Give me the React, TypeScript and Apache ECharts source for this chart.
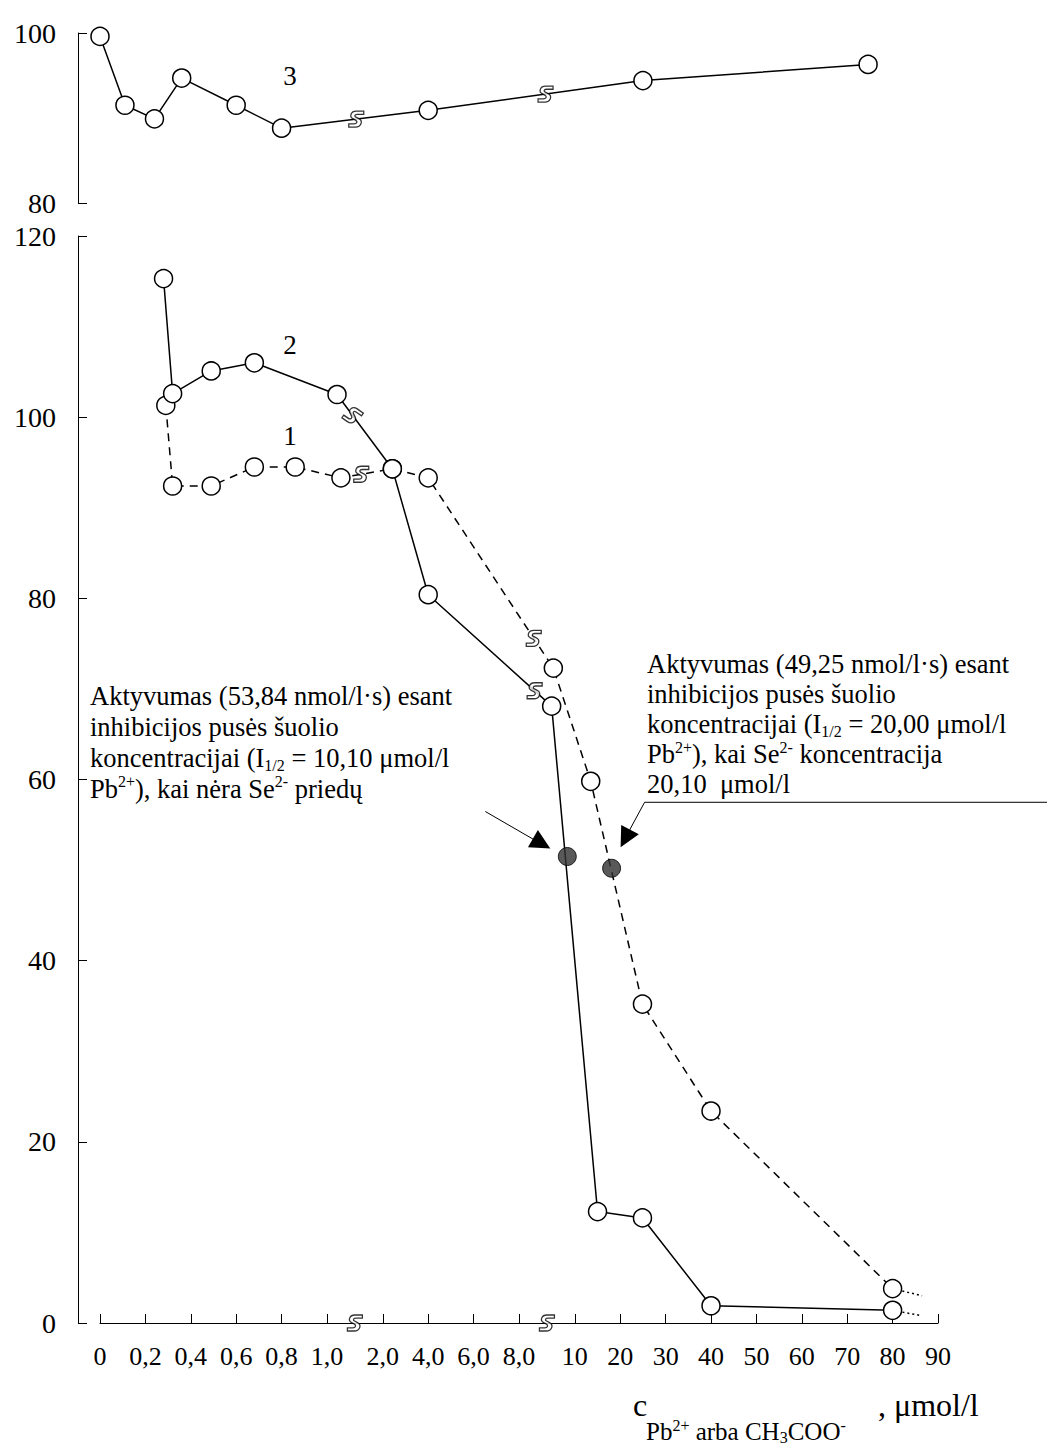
import { useEffect, useRef } from "react";
import * as echarts from "echarts";

// ---- axis (broken, piecewise scale) ----
const tickLabels = ["0", "0,2", "0,4", "0,6", "0,8", "1,0", "2,0", "4,0", "6,0", "8,0", "10", "20", "30", "40", "50", "60", "70", "80", "90"];
const tickValues = [0, 0.2, 0.4, 0.6, 0.8, 1.0, 2, 4, 6, 8, 10, 20, 30, 40, 50, 60, 70, 80, 90];
const breakAfterIndex = [5, 9];
const BREAK_GAP = 0.23;

const yTopMin = 80, yTopMax = 100, yTopStep = 20;
const yBotMin = 0, yBotMax = 120, yBotStep = 20;

// ---- series (concentration, activity) ----
const curve3X = [0, 0.11, 0.24, 0.36, 0.6, 0.8, 4.0, 25, 74.6];
const curve3Y = [99.6, 91.5, 89.9, 94.7, 91.5, 88.8, 90.9, 94.4, 96.3];

const curve2X = [0.28, 0.32, 0.49, 0.68, 1.18, 2.42, 4.0, 9.17, 15.0, 24.9, 40, 80];
const curve2Y = [115.3, 102.6, 105.1, 106.0, 102.5, 94.3, 80.4, 68.1, 12.3, 11.6, 1.9, 1.4];

const curve1X = [0.29, 0.32, 0.49, 0.68, 0.86, 1.25, 2.42, 4.0, 9.23, 13.5, 24.9, 40, 80];
const curve1Y = [101.3, 92.4, 92.4, 94.5, 94.5, 93.3, 94.3, 93.3, 72.3, 59.8, 35.2, 23.4, 3.8];

const halfX = [9.73, 18.1]; // curve 2, curve 1
const halfY = [51.5, 50.2];

const tailX = [80, 86.5];
const tail1Y = [3.8, 3.0];
const tail2Y = [1.4, 0.8];

// break-mark shifts (in tick units) relative to the axis break centre, per curve
const brk3Shift = [0.03, -0.03];
const brk2Shift = [-0.05, -0.27];
const brk1Shift = [0.14, -0.29];

const FONT = '"Liberation Serif", "Times New Roman", serif';
const BREAK_PATH =
  "path://M0,16 L7,16 C11,16 12,13 9.5,11.5 L5.5,9.5 C0.5,7 2.5,0 10,0 L20,0 L20,4 L11,4 C7.5,4 7.5,6.5 9.5,7.5 L13.5,9.5 C19.5,12.5 16.5,20 9,20 L0,20 Z";

const tickPos = tickValues.map((_, i) => i + BREAK_GAP * breakAfterIndex.filter((b) => i > b).length);
const X_MAX = tickPos[tickPos.length - 1];

function toPos(c: number): number {
  for (let i = 0; i < tickValues.length - 1; i++) {
    if (c <= tickValues[i + 1]) {
      const t = (c - tickValues[i]) / (tickValues[i + 1] - tickValues[i]);
      return tickPos[i] + t * (tickPos[i + 1] - tickPos[i]);
    }
  }
  const n = tickValues.length - 1;
  return tickPos[n] + ((c - tickValues[n]) / (tickValues[n] - tickValues[n - 1])) * (tickPos[n] - tickPos[n - 1]);
}

const pts = (xs: number[], ys: number[]) => xs.map((x, i) => [toPos(x), ys[i]]);

const breakCentres = breakAfterIndex.map((b) => (tickPos[b] + tickPos[b + 1]) / 2);

function yAt(data: number[][], p: number): number {
  for (let i = 0; i < data.length - 1; i++) {
    const [x0, y0] = data[i];
    const [x1, y1] = data[i + 1];
    if (p >= x0 && p <= x1) return y0 + ((p - x0) / (x1 - x0)) * (y1 - y0);
  }
  return data[data.length - 1][1];
}

function marksOn(data: number[][], shifts: number[], rot: number[] = [0, 0]) {
  return breakCentres.map((c, i) => {
    const p = c + shifts[i];
    return { value: [p, yAt(data, p)], symbolRotate: rot[i] };
  });
}

function arrowHead(tip: number[], from: number[], len = 20, half = 10) {
  const dx = tip[0] - from[0], dy = tip[1] - from[1];
  const d = Math.hypot(dx, dy);
  const ux = dx / d, uy = dy / d;
  const bx = tip[0] - ux * len, by = tip[1] - uy * len;
  return [
    [tip[0], tip[1]],
    [bx - uy * half, by + ux * half],
    [bx + uy * half, by - ux * half],
  ];
}

export default function App() {
  const ref = useRef<HTMLDivElement>(null);
  useEffect(() => {
    const chart = echarts.init(ref.current!, undefined, { renderer: "svg" });
    const d3 = pts(curve3X, curve3Y);
    const d2 = pts(curve2X, curve2Y);
    const d1 = pts(curve1X, curve1Y);

    const openCircle = {
      symbol: "circle",
      symbolSize: 18,
      itemStyle: { color: "#ffffff", borderColor: "#000000", borderWidth: 1.5 },
    };
    const axisBlack = { lineStyle: { color: "#000000", width: 1 } };
    const breakSeries = (xi: number, yi: number, data: any[]) => ({
      type: "scatter",
      xAxisIndex: xi,
      yAxisIndex: yi,
      symbol: BREAK_PATH,
      symbolSize: [15, 16],
      clip: false,
      z: 10,
      itemStyle: { color: "#ffffff", borderColor: "#000000", borderWidth: 1.3 },
      data,
      silent: true,
    });
    const yAxisBase = {
      type: "value",
      offset: 22,
      splitLine: { show: false },
      axisLine: { show: true, onZero: false, ...axisBlack },
      axisTick: { show: true, inside: true, length: 9, ...axisBlack },
      axisLabel: { margin: 22, color: "#000000", fontFamily: FONT, fontSize: 28 },
    };

    chart.setOption({
      animation: false,
      backgroundColor: "#ffffff",
      grid: [
        { left: 100, width: 838, top: 33, height: 170 },
        { left: 100, width: 838, top: 236, height: 1087 },
      ],
      xAxis: [
        { gridIndex: 0, type: "value", min: 0, max: X_MAX, show: false },
        {
          gridIndex: 1,
          type: "value",
          min: 0,
          max: X_MAX,
          splitLine: { show: false },
          axisLine: { show: true, onZero: false, ...axisBlack },
          axisTick: { show: true, inside: true, length: 9, customValues: tickPos, ...axisBlack },
          axisLabel: {
            customValues: tickPos,
            margin: 20,
            color: "#000000",
            fontFamily: FONT,
            fontSize: 26,
            formatter: (v: number) => {
              const i = tickPos.findIndex((p) => Math.abs(p - v) < 1e-6);
              return i >= 0 ? tickLabels[i] : "";
            },
          },
        },
      ],
      yAxis: [
        { ...yAxisBase, gridIndex: 0, min: yTopMin, max: yTopMax, interval: yTopStep },
        { ...yAxisBase, gridIndex: 1, min: yBotMin, max: yBotMax, interval: yBotStep },
      ],
      series: [
        {
          type: "line",
          xAxisIndex: 0,
          yAxisIndex: 0,
          data: d3,
          ...openCircle,
          lineStyle: { color: "#000000", width: 1.5 },
          z: 3,
        },
        {
          type: "line",
          xAxisIndex: 1,
          yAxisIndex: 1,
          data: pts(tailX, tail1Y),
          symbol: "none",
          lineStyle: { color: "#000000", width: 1.5, type: [2, 3] },
          z: 2,
        },
        {
          type: "line",
          xAxisIndex: 1,
          yAxisIndex: 1,
          data: pts(tailX, tail2Y),
          symbol: "none",
          lineStyle: { color: "#000000", width: 1.5, type: [2, 3] },
          z: 2,
        },
        {
          type: "line",
          xAxisIndex: 1,
          yAxisIndex: 1,
          data: d1,
          ...openCircle,
          lineStyle: { color: "#000000", width: 1.5, type: [8, 6] },
          z: 3,
        },
        {
          type: "line",
          xAxisIndex: 1,
          yAxisIndex: 1,
          data: d2,
          ...openCircle,
          lineStyle: { color: "#000000", width: 1.5 },
          z: 4,
        },
        {
          type: "scatter",
          xAxisIndex: 1,
          yAxisIndex: 1,
          symbol: "circle",
          symbolSize: 18,
          itemStyle: { color: "#303030", borderColor: "#000000", borderWidth: 1 },
          data: pts(halfX, halfY),
          z: 6,
        },
        breakSeries(0, 0, marksOn(d3, brk3Shift)),
        breakSeries(1, 1, [
          ...marksOn(d2, brk2Shift, [-35, 0]),
          ...marksOn(d1, brk1Shift),
          ...breakCentres.map((c) => ({ value: [c, 0] })),
        ]),
      ],
    });

    const p2 = chart.convertToPixel({ gridIndex: 1 }, pts(halfX, halfY)[0]) as number[];
    const p1 = chart.convertToPixel({ gridIndex: 1 }, pts(halfX, halfY)[1]) as number[];

    const leftTip = [p2[0] - 17, p2[1] - 8];
    const leftStart = [p2[0] - 82, p2[1] - 45];
    const rightTip = [p1[0] + 9, p1[1] - 21];
    const rightElbow = [p1[0] + 33, p1[1] - 66];

    const rich = (lh: number, size: number) => ({
      sub: { fontFamily: FONT, fontSize: 16, lineHeight: 14, verticalAlign: "bottom", fill: "#000" },
      sup: { fontFamily: FONT, fontSize: 16, lineHeight: 22, verticalAlign: "top", fill: "#000" },
      base: { fontFamily: FONT, fontSize: size, lineHeight: lh, fill: "#000" },
    });

    const label = (t: string, x: number, y: number) => ({
      type: "text",
      x,
      y,
      style: { text: t, font: `27px ${FONT}`, fill: "#000", align: "center", verticalAlign: "middle" },
    });

    chart.setOption({
      graphic: [
        label("3", 290, 76),
        label("2", 290, 345),
        label("1", 290, 436),
        {
          type: "text",
          x: 90,
          y: 680,
          style: {
            text: [
              "{base|Aktyvumas (53,84 nmol/l·s) esant}",
              "{base|inhibicijos pusės šuolio}",
              "{base|koncentracijai (I}{sub|1/2}{base| = 10,10 μmol/l}",
              "{base|Pb}{sup|2+}{base|), kai nėra Se}{sup|2-}{base| priedų}",
            ].join("\n"),
            font: `26.5px ${FONT}`,
            lineHeight: 31,
            fill: "#000",
            rich: rich(31, 26.5),
            align: "left",
            verticalAlign: "top",
          },
        },
        {
          type: "text",
          x: 647,
          y: 649,
          style: {
            text: [
              "{base|Aktyvumas (49,25 nmol/l·s) esant}",
              "{base|inhibicijos pusės šuolio}",
              "{base|koncentracijai (I}{sub|1/2}{base| = 20,00 μmol/l}",
              "{base|Pb}{sup|2+}{base|), kai Se}{sup|2-}{base| koncentracija}",
              "{base|20,10  μmol/l}",
            ].join("\n"),
            font: `26.5px ${FONT}`,
            lineHeight: 30,
            fill: "#000",
            rich: rich(30, 26.5),
            align: "left",
            verticalAlign: "top",
          },
        },
        {
          type: "line",
          shape: { x1: leftStart[0], y1: leftStart[1], x2: leftTip[0] - 8, y2: leftTip[1] - 4 },
          style: { stroke: "#000", lineWidth: 1 },
        },
        { type: "polygon", shape: { points: arrowHead(leftTip, leftStart) }, style: { fill: "#000" } },
        {
          type: "polyline",
          shape: { points: [[1047, rightElbow[1]], rightElbow, [rightTip[0] + 4, rightTip[1] - 8]] },
          style: { stroke: "#000", lineWidth: 1, fill: null },
        },
        { type: "polygon", shape: { points: arrowHead(rightTip, rightElbow) }, style: { fill: "#000" } },
        // axis title
        { type: "text", x: 633, y: 1405, style: { text: "c", font: `32px ${FONT}`, fill: "#000", verticalAlign: "middle" } },
        {
          type: "text",
          x: 646,
          y: 1431,
          style: {
            text: "{base|Pb}{sup|2+}{base| arba CH}{sub|3}{base|COO}{sup|-}",
            font: `25px ${FONT}`,
            lineHeight: 28,
            fill: "#000",
            rich: rich(28, 25),
            verticalAlign: "middle",
          },
        },
        { type: "text", x: 878, y: 1405, style: { text: ", μmol/l", font: `32px ${FONT}`, fill: "#000", verticalAlign: "middle" } },
      ],
    });

    return () => chart.dispose();
  }, []);
  return <div ref={ref} style={{ position: "absolute", left: 0, top: 0, width: 1047, height: 1446 }} />;
}
